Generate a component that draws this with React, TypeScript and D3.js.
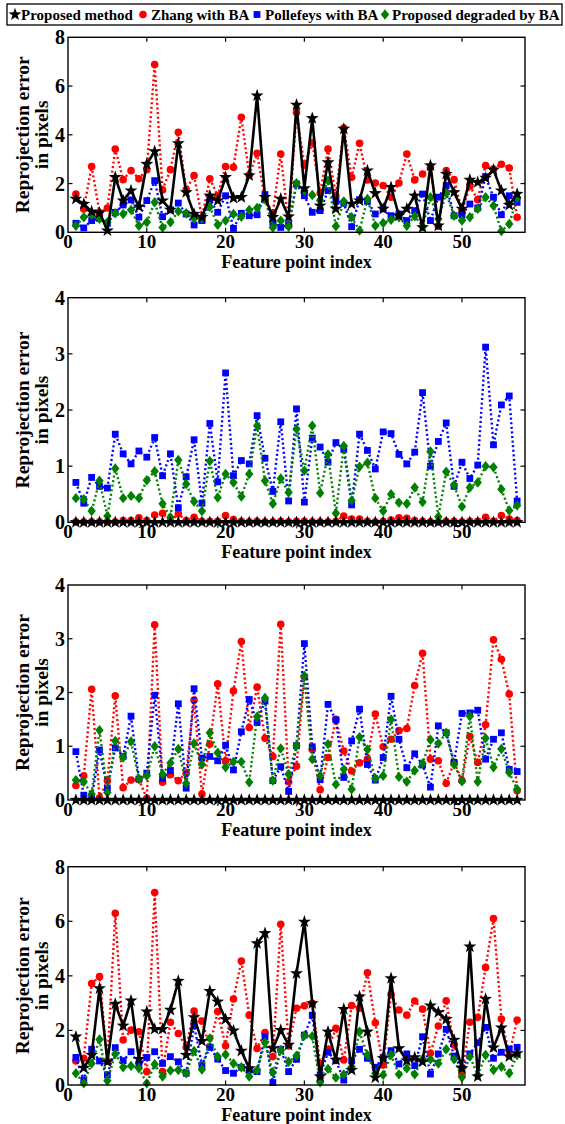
import React from 'react';
import * as d3 from 'd3';

// feature point index 1..57
const featureIdx = d3.range(1, 58);
const xTickVals = [0, 10, 20, 30, 40, 50];

const legendNames = ['Proposed method', 'Zhang with BA', 'Pollefeys with BA', 'Proposed degraded by BA'];

// panel 1
const p1Proposed = [1.37,1.16,0.85,0.8,0.07,2.26,1.3,1.71,1.05,2.8,3.32,1.3,0.92,3.65,1.64,0.75,0.62,1.5,1.3,2.26,1.41,1.44,2.33,5.61,1.44,0.62,1.37,0.64,5.23,1.8,4.68,1.09,2.87,0.96,4.24,1.16,1.3,2.53,1.6,0.96,1.85,0.68,0.96,1.5,0.2,2.74,0.27,2.39,1.64,0.96,2.15,2.05,2.23,2.56,1.71,1.12,1.57];
const p1Zhang = [1.57,0.96,2.7,0.8,1.0,3.42,2.16,2.53,2.2,2.57,6.88,1.74,2.57,4.1,1.75,2.33,0.6,2.2,1.5,2.7,2.67,4.72,2.35,3.24,1.33,0.8,3.21,0.3,4.92,2.75,3.67,1.61,3.42,1.5,4.28,2.26,3.65,2.15,2.02,1.92,1.44,2.02,3.21,2.15,2.39,2.67,0.25,2.53,2.16,0.89,1.89,1.34,2.74,2.59,2.79,2.64,0.62];
const p1Pollefeys = [0.37,0.18,0.48,0.57,0.37,0.82,1.12,1.33,0.62,1.3,2.12,0.64,0.92,1.2,0.75,0.3,0.48,1.33,0.82,1.5,0.16,0.78,0.68,0.72,1.55,0.38,0.2,0.3,1.98,1.5,0.82,0.89,1.71,1.27,1.19,0.23,1.34,1.27,0.75,0.96,0.68,0.75,0.48,0.89,1.57,0.48,1.44,1.92,0.68,0.72,1.16,1.0,2.28,1.44,0.72,1.5,1.23];
const p1Degraded = [0.27,0.62,0.72,0.55,0.41,0.78,0.75,0.92,0.27,0.41,1.23,0.2,0.41,0.86,0.78,0.57,0.57,1.05,0.31,0.48,0.75,0.64,0.92,1.0,1.37,0.2,0.48,0.23,2.01,1.71,1.53,1.3,2.12,0.25,1.27,0.62,0.07,1.37,0.27,0.38,0.51,0.62,0.27,0.66,0.25,1.44,0.55,1.6,0.68,0.48,0.62,0.96,1.44,1.09,0.05,0.34,1.44];

// panel 2
const p2Proposed = [0,0,0,0,0,0,0,0,0,0,0,0,0,0,0,0,0,0,0,0,0,0,0,0,0,0,0,0,0,0,0,0,0,0,0,0,0,0,0,0,0,0,0,0,0,0,0,0,0,0,0,0,0,0,0,0,0];
const p2Zhang = [0.01,0.01,0.01,0.01,0.01,0.01,0.03,0.03,0.08,0.03,0.13,0.16,0.02,0.15,0.03,0.09,0.02,0.02,0.02,0.12,0.05,0.02,0.01,0.02,0.01,0.01,0.02,0.01,0.02,0.02,0.01,0.01,0.01,0.02,0.11,0.06,0.06,0.02,0.01,0.02,0.04,0.08,0.07,0.03,0.02,0.01,0.01,0.02,0.02,0.01,0.02,0.02,0.09,0.02,0.12,0.06,0.03];
const p2Pollefeys = [0.71,0.34,0.8,0.64,0.61,1.57,1.22,1.04,1.27,1.16,1.51,0.83,1.22,0.26,0.81,1.47,0.34,1.76,0.72,2.66,0.83,1.1,1.04,1.9,1.14,0.55,1.79,0.38,2.02,0.36,1.5,1.34,1.07,1.42,1.3,0.31,1.57,1.28,0.95,1.61,1.58,1.21,1.04,1.25,2.31,1.0,1.44,1.77,0.64,1.07,0.78,1.02,3.12,1.38,2.09,2.25,0.38];
const p2Degraded = [0.43,0.41,0.2,0.74,0.11,0.96,0.43,0.47,0.43,0.75,0.91,0.33,0.09,1.11,0.68,0.37,0.2,1.09,0.44,0.86,0.71,0.46,0.86,1.72,0.74,0.33,0.78,0.53,1.66,0.92,1.72,0.52,1.21,0.16,1.36,0.39,0.99,1.06,0.43,0.2,0.5,0.35,0.33,0.62,0.36,1.26,0.1,0.9,0.66,0.28,0.62,0.71,1.0,0.98,0.59,0.21,0.3];

// panel 3
const p3Proposed = [0,0,0,0,0,0,0,0,0,0,0,0,0,0,0,0,0,0,0,0,0,0,0,0,0,0,0,0,0,0,0,0,0,0,0,0,0,0,0,0,0,0,0,0,0,0,0,0,0,0,0,0,0,0,0,0,0];
const p3Zhang = [0.27,0.45,2.06,0.04,0.36,1.94,0.23,0.37,0.38,0.03,3.26,0.33,0.47,0.36,0.5,1.86,0.11,1.04,2.16,0.73,2.03,2.95,1.35,2.1,1.15,0.81,3.27,0.34,0.63,2.29,0.94,0.19,0.79,1.5,0.91,0.54,0.69,0.76,1.6,0.99,1.13,1.29,1.33,2.13,2.73,0.76,0.73,0.31,0.7,0.36,1.18,0.7,1.4,2.98,2.62,1.97,0.17];
const p3Pollefeys = [0.9,0.09,0.03,0.93,0.22,0.97,0.81,1.56,0.39,0.5,1.95,0.4,0.55,1.79,0.22,2.07,0.78,0.81,0.73,1.02,0.56,1.27,1.87,1.44,1.84,0.36,0.62,0.16,1.01,2.91,0.99,0.38,1.78,1.49,0.42,1.1,1.69,0.66,0.37,0.79,1.93,1.13,0.6,0.86,0.65,0.24,1.38,1.25,0.7,1.61,1.62,1.67,0.76,1.13,1.25,0.57,0.53];
const p3Degraded = [0.37,0.34,0.11,1.3,0.14,1.1,0.79,1.09,0.39,0.45,1.0,0.48,0.69,0.95,0.31,1.05,0.66,1.25,0.88,0.61,0.71,0.71,0.33,1.55,1.9,0.36,0.96,0.48,1.01,2.31,0.76,0.45,1.04,0.29,0.57,0.2,1.17,0.94,0.4,0.45,1.5,0.43,0.34,0.55,0.68,1.12,1.05,1.25,0.66,0.35,1.56,0.34,1.15,0.61,0.95,0.51,0.2];

// panel 4
const p4Proposed = [1.77,0.63,1.1,3.54,0.85,2.97,2.17,3.09,0.95,2.69,2.05,2.05,2.75,3.81,1.1,2.48,1.61,3.44,3.05,2.41,1.99,1.25,0.61,5.19,5.56,1.34,2.01,1.47,4.09,5.98,2.99,0.31,1.95,0.92,2.78,0.55,3.24,1.95,0.27,0.98,3.91,1.34,0.89,1.01,0.85,2.91,2.66,2.41,1.65,0.61,5.07,0.31,3.15,1.37,2.1,1.04,1.16];
const p4Zhang = [0.88,0.98,3.72,3.97,0.88,6.29,1.65,2.01,1.95,0.49,7.05,0.49,2.3,1.89,1.38,2.71,2.34,1.4,2.69,1.44,3.15,4.54,2.56,1.34,1.92,1.04,5.89,1.43,2.81,2.9,2.99,0.79,1.31,2.08,0.92,2.91,2.81,4.11,2.28,0.73,3.32,2.75,2.56,3.08,2.78,1.16,2.16,3.09,1.47,0.37,2.3,2.48,4.31,6.1,2.42,1.1,2.38];
const p4Pollefeys = [1.01,0.18,1.31,0.88,0.37,1.37,0.89,1.22,0.73,1.01,1.22,0.79,1.04,0.85,0.43,2.17,0.73,1.38,0.95,0.53,0.43,0.65,0.55,0.49,1.77,0.09,1.31,0.49,0.94,1.83,2.56,0.37,1.2,0.89,0.18,0.89,1.31,0.98,0.65,1.0,1.26,0.77,1.14,0.71,1.77,0.4,1.14,2.04,1.06,0.61,1.14,1.55,2.11,0.98,1.2,1.32,1.38];
const p4Degraded = [0.43,0.06,0.79,1.67,0.16,1.14,0.65,0.7,0.61,0.06,0.76,0.31,0.53,0.55,0.43,1.25,0.57,1.71,1.04,1.12,0.79,0.65,0.31,0.55,1.56,0.46,1.28,0.85,1.07,1.81,1.79,0.1,0.59,0.27,0.39,0.67,1.95,1.1,0.43,0.37,1.1,0.39,0.61,0.39,0.95,0.94,0.79,1.31,0.94,0.28,1.04,0.37,1.1,0.55,0.67,0.43,1.1];

const W = 565;
const H = 1124;
const LEFT = 68;
const RIGHT = 525;
const FONT = '"Liberation Serif", "Times New Roman", serif';

const RED = '#ff0000';
const BLUE = '#0000ff';
const GREEN = '#008000';

function starPath(R: number, r: number) {
  const pts: string[] = [];
  for (let k = 0; k < 10; k++) {
    const rad = k % 2 === 0 ? R : r;
    const a = -Math.PI / 2 + (k * Math.PI) / 5;
    pts.push(`${(rad * Math.cos(a)).toFixed(2)},${(rad * Math.sin(a)).toFixed(2)}`);
  }
  return 'M' + pts.join('L') + 'Z';
}
const STAR = starPath(6.8, 2.7);
const DIAMOND = 'M0,-5.2L4.2,0L0,5.2L-4.2,0Z';

const Marker = ({ kind, x, y }: { kind: string; x: number; y: number }) => {
  if (kind === 'star') return <path d={STAR} transform={`translate(${x},${y})`} fill="#000" />;
  if (kind === 'circle') return <circle cx={x} cy={y} r={3.8} fill={RED} />;
  if (kind === 'square') return <rect x={x - 3.4} y={y - 3.4} width={6.8} height={6.8} fill={BLUE} />;
  return <path d={DIAMOND} transform={`translate(${x},${y})`} fill={GREEN} />;
};

const Panel = ({ top, bottom, yMax, yTicks, proposed, zhang, pollefeys, degraded }: any) => {
  const x = d3.scaleLinear().domain([0, 58]).range([LEFT, RIGHT]);
  const y = d3.scaleLinear().domain([0, yMax]).range([bottom, top]);
  const line = d3.line<number>().x((_, i) => x(featureIdx[i])).y(d => y(d));
  const cy = (top + bottom) / 2;

  const series = [
    { vals: zhang, color: RED, kind: 'circle', dash: '2,2.6', w: 2.4 },
    { vals: pollefeys, color: BLUE, kind: 'square', dash: '2,2.6', w: 2.4 },
    { vals: degraded, color: GREEN, kind: 'diamond', dash: '2,2.6', w: 2.4 },
    { vals: proposed, color: '#000', kind: 'star', dash: null, w: 2.6 },
  ];

  return (
    <g>
      {series.map((s, si) => (
        <g key={si}>
          <path d={line(s.vals) || ''} fill="none" stroke={s.color} strokeWidth={s.w}
            strokeDasharray={s.dash || undefined} strokeLinejoin="round" />
          {s.vals.map((v: number, i: number) => (
            <Marker key={i} kind={s.kind} x={x(featureIdx[i])} y={y(v)} />
          ))}
        </g>
      ))}

      <rect x={LEFT} y={top} width={RIGHT - LEFT} height={bottom - top} fill="none" stroke="#000" strokeWidth={1.4} />
      {xTickVals.filter(t => t > 0).map(t => (
        <g key={'xt' + t}>
          <line x1={x(t)} x2={x(t)} y1={bottom} y2={bottom - 4.5} stroke="#000" strokeWidth={1.2} />
          <line x1={x(t)} x2={x(t)} y1={top} y2={top + 4.5} stroke="#000" strokeWidth={1.2} />
        </g>
      ))}
      {yTicks.filter((t: number) => t > 0 && t < yMax).map((t: number) => (
        <g key={'yt' + t}>
          <line x1={LEFT} x2={LEFT + 4.5} y1={y(t)} y2={y(t)} stroke="#000" strokeWidth={1.2} />
          <line x1={RIGHT} x2={RIGHT - 4.5} y1={y(t)} y2={y(t)} stroke="#000" strokeWidth={1.2} />
        </g>
      ))}

      <g fontFamily={FONT} fontWeight="bold" fill="#000">
        {xTickVals.map(t => (
          <text key={'xl' + t} x={x(t)} y={bottom + 15.5} textAnchor="middle" fontSize={19}>{t}</text>
        ))}
        {yTicks.map((t: number) => (
          <text key={'yl' + t} x={LEFT - 3} y={y(t)} dy="0.35em" textAnchor="end" fontSize={20}>{t}</text>
        ))}
        <text x={(LEFT + RIGHT) / 2} y={bottom + 35.5} textAnchor="middle" fontSize={18}>Feature point index</text>
        <text transform={`translate(29,${cy}) rotate(-90)`} textAnchor="middle" fontSize={19.5}>Reprojection error</text>
        <text transform={`translate(48,${cy}) rotate(-90)`} textAnchor="middle" fontSize={19.5}>in pixels</text>
      </g>
    </g>
  );
};

const Legend = () => {
  const markerX = [15, 143, 257, 385];
  const textX = [21, 151, 265, 392];
  const kinds = ['star', 'circle', 'square', 'diamond'];
  return (
    <g>
      <rect x={7} y={4} width={555} height={21} fill="#fff" stroke="#000" strokeWidth={1.3} />
      {legendNames.map((name, i) => (
        <g key={name}>
          <Marker kind={kinds[i]} x={markerX[i]} y={14.5} />
          <text x={textX[i]} y={20} fontFamily={FONT} fontWeight="bold" fontSize={15}>{name}</text>
        </g>
      ))}
    </g>
  );
};

export default function App() {
  return (
    <svg width={W} height={H} viewBox={`0 0 ${W} ${H}`}
      style={{ position: 'absolute', left: 0, top: 0, background: '#fff' }}>
      <rect width={W} height={H} fill="#fff" />
      <Panel top={37.3} bottom={232.3} yMax={8} yTicks={[0, 2, 4, 6, 8]}
        proposed={p1Proposed} zhang={p1Zhang} pollefeys={p1Pollefeys} degraded={p1Degraded} />
      <Panel top={297.7} bottom={522.3} yMax={4} yTicks={[0, 1, 2, 3, 4]}
        proposed={p2Proposed} zhang={p2Zhang} pollefeys={p2Pollefeys} degraded={p2Degraded} />
      <Panel top={585} bottom={800} yMax={4} yTicks={[0, 1, 2, 3, 4]}
        proposed={p3Proposed} zhang={p3Zhang} pollefeys={p3Pollefeys} degraded={p3Degraded} />
      <Panel top={866.7} bottom={1085} yMax={8} yTicks={[0, 2, 4, 6, 8]}
        proposed={p4Proposed} zhang={p4Zhang} pollefeys={p4Pollefeys} degraded={p4Degraded} />
      <Legend />
    </svg>
  );
}
